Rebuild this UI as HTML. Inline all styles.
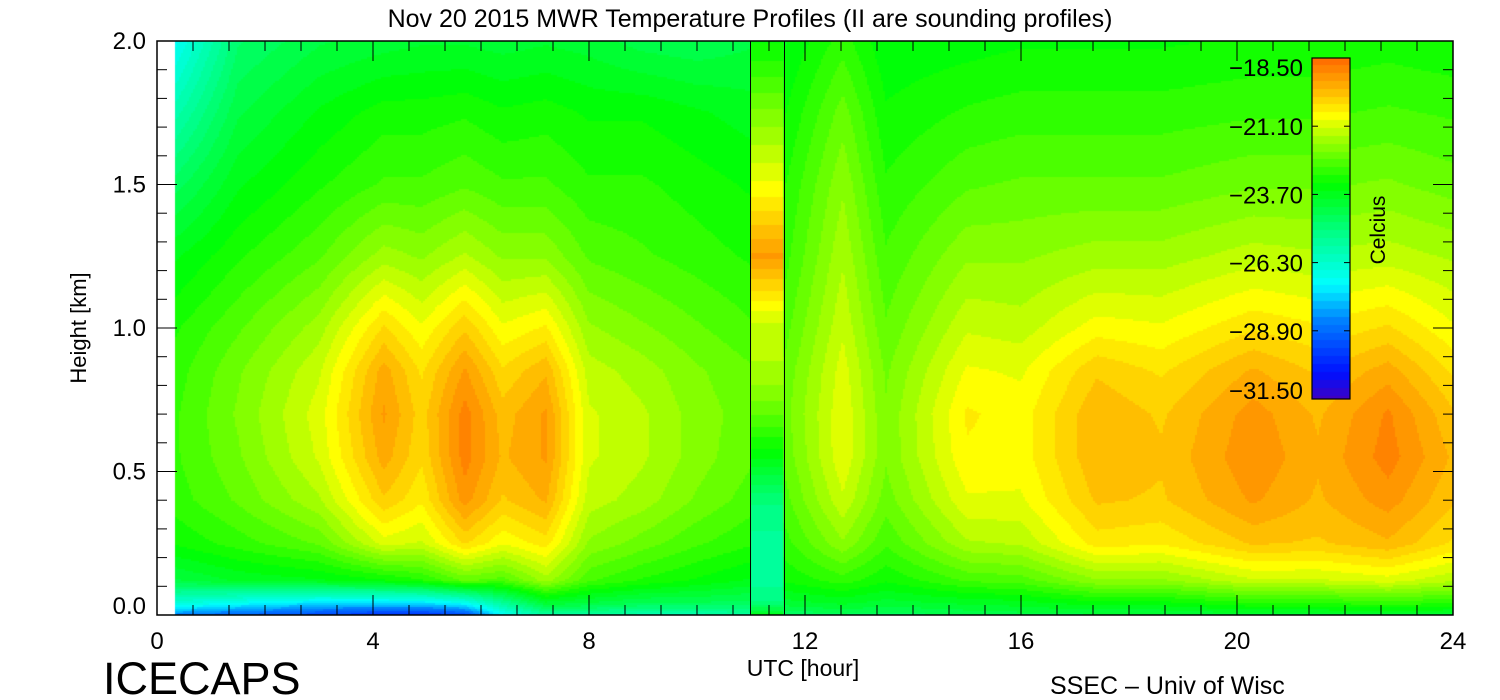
<!DOCTYPE html>
<html><head><meta charset="utf-8">
<style>
body{margin:0;background:#fff;width:1500px;height:700px;overflow:hidden;font-family:"Liberation Sans",sans-serif}
#wrap{position:relative;width:1500px;height:700px}
canvas,svg{position:absolute;left:0;top:0}
</style></head><body>
<div id="wrap">
<canvas id="cv" width="1500" height="700"></canvas>
<svg id="sv" width="1500" height="700"></svg>
</div>
<script>
const heights=[0,0.04,0.12,0.25,0.4,0.55,0.7,0.85,1.0,1.25,1.5,1.75,2.0];
const leftTimes=[0.33,1.5,3,4.2,4.9,5.7,6.4,7.2,8,9,10,11.0];
const leftVals=[
[-28.5,-26.5,-24.2,-23.2,-22.8,-22.7,-22.7,-22.8,-23,-23.6,-24.6,-25.8,-27],
[-29,-27,-23.8,-22.8,-22.3,-22.1,-22,-22.1,-22.4,-23,-23.6,-24.2,-24.8],
[-29.5,-27.5,-23.6,-22.3,-21.5,-21.1,-21,-21.2,-21.6,-22.4,-23,-23.5,-24.2],
[-30,-27.5,-23.3,-21,-20,-19.5,-19.3,-19.5,-20.2,-21.6,-22.6,-23.1,-24],
[-30,-27.5,-23,-21.2,-20.5,-20.2,-20.1,-20.3,-20.8,-21.8,-22.6,-23.1,-23.9],
[-29.5,-27,-22.3,-20.2,-19.2,-18.9,-18.9,-19.3,-20,-21.4,-22.4,-23,-23.9],
[-27,-25.5,-22.5,-20.8,-20,-19.7,-19.8,-20.2,-20.8,-21.8,-22.6,-23.2,-24],
[-25.5,-24,-21.6,-20.4,-19.6,-19.3,-19.3,-19.7,-20.5,-21.8,-22.6,-23.1,-23.9],
[-25.5,-24.2,-22.6,-21.8,-21.3,-21.1,-21.1,-21.3,-21.7,-22.4,-22.9,-23.3,-24],
[-25.8,-24.5,-23,-22.2,-21.6,-21.4,-21.4,-21.6,-22,-22.6,-22.9,-23.3,-24.3],
[-25.8,-24.5,-23.3,-22.6,-22.1,-21.9,-21.9,-22,-22.3,-22.8,-23.1,-23.5,-24.4],
[-25.5,-24.6,-23.6,-22.9,-22.5,-22.3,-22.2,-22.3,-22.6,-23,-23.3,-23.7,-24.2]];
const rightTimes=[11.6,12.7,13.5,15,16,17.4,18.6,20.3,21.5,22.8,24];
const rightVals=[
[-24.8,-24,-23.2,-22.8,-22.5,-22.3,-22.2,-22.3,-22.5,-22.8,-23,-23.3,-23.6],
[-24.5,-23.8,-22.8,-21.8,-21.2,-20.9,-20.9,-21,-21.2,-21.5,-21.8,-22.2,-22.8],
[-24.6,-24,-23.2,-22.6,-22.2,-22,-22,-22.1,-22.3,-22.6,-22.9,-23.2,-23.5],
[-24.4,-23.8,-22.6,-21.5,-20.9,-20.6,-20.5,-20.8,-21.2,-21.8,-22.4,-22.9,-23.4],
[-24.3,-23.7,-22.5,-21.4,-20.9,-20.7,-20.7,-20.9,-21.3,-21.8,-22.3,-22.8,-23.3],
[-24.2,-23.4,-21.8,-20.4,-19.9,-19.7,-19.7,-20,-20.7,-21.6,-22.3,-22.8,-23.3],
[-24.2,-23.4,-21.8,-20.5,-20,-19.9,-20,-20.3,-20.8,-21.6,-22.3,-22.8,-23.3],
[-24,-23,-21.2,-19.9,-19.3,-19.1,-19.2,-19.6,-20.3,-21.3,-22.1,-22.7,-23.2],
[-24,-23,-21.2,-20,-19.7,-19.6,-19.7,-20,-20.5,-21.4,-22.1,-22.7,-23.2],
[-24,-22.8,-21,-19.7,-19.2,-18.9,-19,-19.5,-20.2,-21.3,-22,-22.6,-23.1],
[-24,-23,-21.4,-20.3,-19.9,-19.7,-19.9,-20.3,-20.8,-21.5,-22.2,-22.7,-23.2]];
const soundingTime=[11.0,11.6];
const soundingVals=[-23.5,-25,-25.5,-25.5,-25,-23.5,-22.3,-21.5,-21.3,-19.3,-20.8,-22,-23.3];
const cbTicks=["\u221218.50","\u221221.10","\u221223.70","\u221226.30","\u221228.90","\u221231.50"];
const xTicks=[0,4,8,12,16,20,24];
const yTicks=[0.0,0.5,1.0,1.5,2.0];

const X0=157,XS=54,Y0=615,YS=287;
const xOf=t=>X0+t*XS, yOf=h=>Y0-h*YS;
const vmin=-31.5,vmax=-18.5;
const stops=[[-31.5,[64,0,192]],[-30.5,[0,16,255]],[-28.5,[0,128,255]],[-27.1,[0,255,255]],[-25.3,[0,255,144]],[-23.3,[0,255,0]],[-21.6,[160,255,0]],[-20.7,[255,255,0]],[-19.6,[255,176,0]],[-18.5,[255,106,0]]];
function cmap(v){v=Math.round(v/0.3)*0.3;v=Math.max(vmin,Math.min(vmax,v));
 for(let i=0;i<stops.length-1;i++){const a=stops[i],b=stops[i+1];if(v<=b[0]){const f=(v-a[0])/(b[0]-a[0]);return `rgb(${a[1].map((c,k)=>Math.round(c+(b[1][k]-c)*f)).join(',')})`;}}
 return 'rgb(255,106,0)';}
function interp1(xs,x){if(x<=xs[0])return 0;for(let i=0;i<xs.length-1;i++)if(x<=xs[i+1])return i+(x-xs[i])/(xs[i+1]-xs[i]);return xs.length-1;}
function colAt(vals,f,hi){const i=Math.min(Math.floor(f),vals.length-2),a=f-i;const j=Math.min(Math.floor(hi),heights.length-2),b=hi-j;
 return (1-a)*((1-b)*vals[i][j]+b*vals[i][j+1])+a*((1-b)*vals[i+1][j]+b*vals[i+1][j+1]);}
const cv=document.getElementById('cv'),ctx=cv.getContext('2d');
function drawBlock(times,vals){const xa=Math.round(xOf(times[0])),xb=Math.round(xOf(times[times.length-1]));
 for(let x=xa;x<xb;x+=2){const t=(x+1-X0)/XS,f=interp1(times,t);
  for(let y=Math.round(yOf(2));y<Y0;y+=2){const h=(Y0-y-1)/YS,hi=interp1(heights,h);
   ctx.fillStyle=cmap(colAt(vals,f,hi));ctx.fillRect(x,y,2,2);}}}
drawBlock(leftTimes,leftVals);drawBlock(rightTimes,rightVals);
{const xa=xOf(soundingTime[0]),xb=xOf(soundingTime[1]);
 for(let y=Math.round(yOf(2));y<Y0;y+=2){const h=(Y0-y-1)/YS,hi=interp1(heights,h);const j=Math.min(Math.floor(hi),heights.length-2),b=hi-j;
  ctx.fillStyle=cmap((1-b)*soundingVals[j]+b*soundingVals[j+1]);ctx.fillRect(xa,y,xb-xa,2);}}
for(let y=58;y<399;y++){const v=vmax-(y-58)/341*(vmax-vmin);ctx.fillStyle=cmap(v);ctx.fillRect(1312,y,38,1);}

const NS='http://www.w3.org/2000/svg',sv=document.getElementById('sv');
function el(tag,attrs,txt){const e=document.createElementNS(NS,tag);for(const k in attrs)e.setAttribute(k,attrs[k]);if(txt!==undefined)e.textContent=txt;sv.appendChild(e);return e;}
let e;
e=el('rect',{x:157,y:41,width:1296,height:574,fill:'none',stroke:'#000','stroke-width':1.5});

e=el('line',{x1:750.5,y1:41,x2:750.5,y2:615,stroke:'#000'});

e=el('line',{x1:784.5,y1:41,x2:784.5,y2:615,stroke:'#000'});

for(let t=0;t<=24.001;t+=2/3){const x=xOf(t),maj=Math.abs(t/4-Math.round(t/4))<0.01,L=maj?20:10;
 e=el('line',{x1:x,y1:615,x2:x,y2:615-L,stroke:'#000'});
 e=el('line',{x1:x,y1:41,x2:x,y2:41+L,stroke:'#000'});}
xTicks.forEach(t=>{e=el('text',{x:xOf(t),y:649,'font-size':24,'text-anchor':'middle'},String(t));
 });
for(let i=0;i<=20;i++){const h=i*0.1,y=yOf(h),L=i%5==0?20:10;
 e=el('line',{x1:157,y1:y,x2:157+L,y2:y,stroke:'#000'});
 e=el('line',{x1:1453,y1:y,x2:1453-L,y2:y,stroke:'#000'});}
yTicks.forEach(h=>{e=el('text',{x:146,y:Math.min(yOf(h)+8,614),'font-size':24,'text-anchor':'end'},h.toFixed(1));
 });
e=el('rect',{x:1312,y:58,width:38,height:341,fill:'none',stroke:'#000','stroke-width':1.2});

cbTicks.forEach((s,i)=>{const y=58+i*341/5;
 e=el('line',{x1:1312,y1:y,x2:1318,y2:y,stroke:'#000'});
 e=el('line',{x1:1350,y1:y,x2:1344,y2:y,stroke:'#000'});
 e=el('text',{x:1303,y:Math.max(76,Math.min(y+9,399)),'font-size':24,'text-anchor':'end'},s);
 });
e=el('text',{x:0,y:0,'font-size':21,'text-anchor':'middle',transform:'translate(1385,230) rotate(-90)'},'Celcius');

e=el('text',{x:750,y:27,'font-size':25,'text-anchor':'middle'},'Nov 20 2015 MWR Temperature Profiles (II are sounding profiles)');

e=el('text',{x:0,y:0,'font-size':22,'text-anchor':'middle',transform:'translate(86,328) rotate(-90)'},'Height [km]');

e=el('text',{x:803,y:676,'font-size':23,'text-anchor':'middle'},'UTC [hour]');

e=el('text',{x:103,y:694,'font-size':45},'ICECAPS');

e=el('text',{x:1050,y:694,'font-size':25},'SSEC \u2013 Univ of Wisc');

</script>
</body></html>
